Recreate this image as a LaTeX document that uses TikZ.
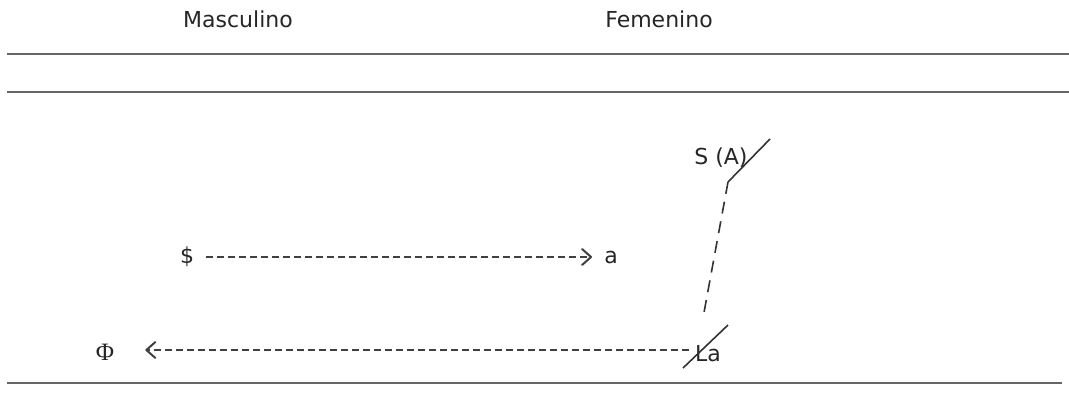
\documentclass[tikz,border=0pt]{standalone}
\usepackage{fontspec}
\setmainfont{DejaVu Sans}
\newfontfamily\phifont{Liberation Serif}
\usetikzlibrary{arrows.meta}
\begin{document}
\begin{tikzpicture}[x=1pt,y=-1pt,
  rule/.style={draw=black!60, line width=2pt},
  lbl/.style={inner sep=0pt, font=\fontsize{22}{26}\selectfont, text=black!85},
  flow/.style={draw=black!75, line width=1.6pt, dash pattern=on 7pt off 4pt,
    -{Straight Barb[length=9pt,width=16pt,line width=2pt,round]}},
  bar/.style={draw=black!80, line width=1.6pt},
  link/.style={draw=black!80, line width=1.6pt, dash pattern=on 12pt off 8pt}]
\useasboundingbox (0,0) rectangle (1069,420);
% header and row rules
\node[lbl] (masc) at (238,19) {Masculino};
\node[lbl] (fem) at (659,19) {Femenino};
\draw[rule] (7,54) -- (1069,54);
\draw[rule] (7,92) -- (1069,92);
\draw[rule] (7,383) -- (1062,383);
% terms
\node[lbl] (sbar) at (187,257) {\$};
\node[lbl] (obja) at (611,257) {a};
\node[lbl] (sA) at (721,158) {S (A)};
\node[lbl] (La) at (708,354) {La};
\node[lbl, font=\phifont\fontsize{25}{28}\selectfont] (phi) at (105,352) {Φ};
% bars through A and La
\coordinate (sAlo) at (728,182);
\coordinate (sAhi) at (770,139);
\draw[bar] (sAlo) -- (sAhi);
\coordinate (Lalo) at (683,368);
\coordinate (Lahi) at (728,325);
\draw[bar] (Lalo) -- (Lahi);
% arrows
\draw[flow] ([xshift=12pt]sbar.east) -- ([xshift=-12pt]obja.west);
\draw[flow] ([xshift=-6pt,yshift=4pt]La.west) -- ([xshift=31pt,yshift=2pt]phi.east);
\coordinate (Latop) at (703,318);
\draw[link] (sAlo) -- (Latop);
\end{tikzpicture}
\end{document}
